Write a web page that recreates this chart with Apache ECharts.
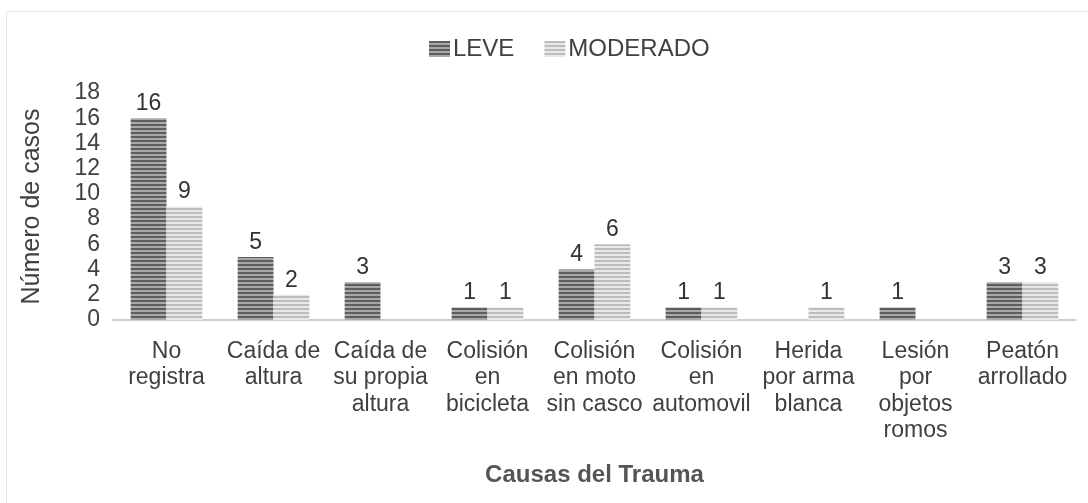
<!DOCTYPE html>
<html>
<head>
<meta charset="utf-8">
<script src="https://cdn.jsdelivr.net/npm/echarts@6/dist/echarts.min.js"></script>
<style>
  html, body { margin: 0; padding: 0; background: #fff; }
  #chart { width: 1088px; height: 503px; }
</style>
</head>
<body>
<div id="chart"></div>
<script>
// datos del gráfico
const causas = [
  'No\nregistra',
  'Caída de\naltura',
  'Caída de\nsu propia\naltura',
  'Colisión\nen\nbicicleta',
  'Colisión\nen moto\nsin casco',
  'Colisión\nen\nautomovil',
  'Herida\npor arma\nblanca',
  'Lesión\npor\nobjetos\nromos',
  'Peatón\narrollado'
];
const leve = [16, 5, 3, 1, 4, 1, 0, 1, 3];
const moderado = [9, 2, 0, 1, 6, 1, 1, 0, 3];

// patrón de rayas horizontales
function stripes(dark, light) {
  const c = document.createElement('canvas');
  c.width = 4;
  c.height = 4;
  const ctx = c.getContext('2d');
  ctx.fillStyle = light;
  ctx.fillRect(0, 0, 4, 4);
  ctx.fillStyle = dark;
  ctx.fillRect(0, 0, 4, 2);
  return { image: c, repeat: 'repeat' };
}

const font = 'Liberation Sans, Arial, sans-serif';
const chart = echarts.init(document.getElementById('chart'));

const valueLabel = {
  show: true,
  position: 'top',
  distance: 3,
  color: '#333',
  fontSize: 23,
  fontFamily: font,
  formatter: p => (p.value ? p.value : '')
};

chart.setOption({
  animation: false,
  graphic: [{
    type: 'rect',
    shape: { x: 6.5, y: 11.5, width: 1200, height: 600 },
    style: { fill: 'none', stroke: '#e6e6e6', lineWidth: 1 }
  }],
  legend: {
    top: 32,
    left: 424,
    icon: 'rect',
    itemWidth: 21,
    itemHeight: 16,
    itemGap: 30,
    textStyle: { color: '#404040', fontSize: 24, fontFamily: font, padding: [0, 0, 0, -2] },
    data: ['LEVE', 'MODERADO']
  },
  grid: { left: 113, top: 93, width: 963, height: 227 },
  xAxis: {
    type: 'category',
    data: causas,
    name: 'Causas del Trauma',
    nameLocation: 'middle',
    nameGap: 143,
    nameTextStyle: { color: '#555', fontSize: 24, fontWeight: 'bold', fontFamily: font },
    axisLine: { lineStyle: { color: '#bfbfbf', width: 1.5 } },
    axisTick: { show: false },
    axisLabel: {
      interval: 0,
      margin: 18,
      color: '#404040',
      fontSize: 23,
      lineHeight: 26.5,
      fontFamily: font
    }
  },
  yAxis: {
    type: 'value',
    min: 0,
    max: 18,
    interval: 2,
    name: 'Número de casos',
    nameLocation: 'middle',
    nameGap: 68,
    nameTextStyle: { color: '#404040', fontSize: 25, fontFamily: font },
    axisLine: { show: false },
    axisTick: { show: false },
    splitLine: { show: false },
    axisLabel: { margin: 13, color: '#404040', fontSize: 23, fontFamily: font }
  },
  series: [
    {
      name: 'LEVE',
      type: 'bar',
      data: leve,
      barGap: '0%',
      barCategoryGap: '33%',
      itemStyle: { color: stripes('#5e5e5e', '#a8a8a8') },
      label: valueLabel
    },
    {
      name: 'MODERADO',
      type: 'bar',
      data: moderado,
      itemStyle: { color: stripes('#bdbdbd', '#e8e8e8') },
      label: valueLabel
    }
  ]
});
</script>
</body>
</html>
